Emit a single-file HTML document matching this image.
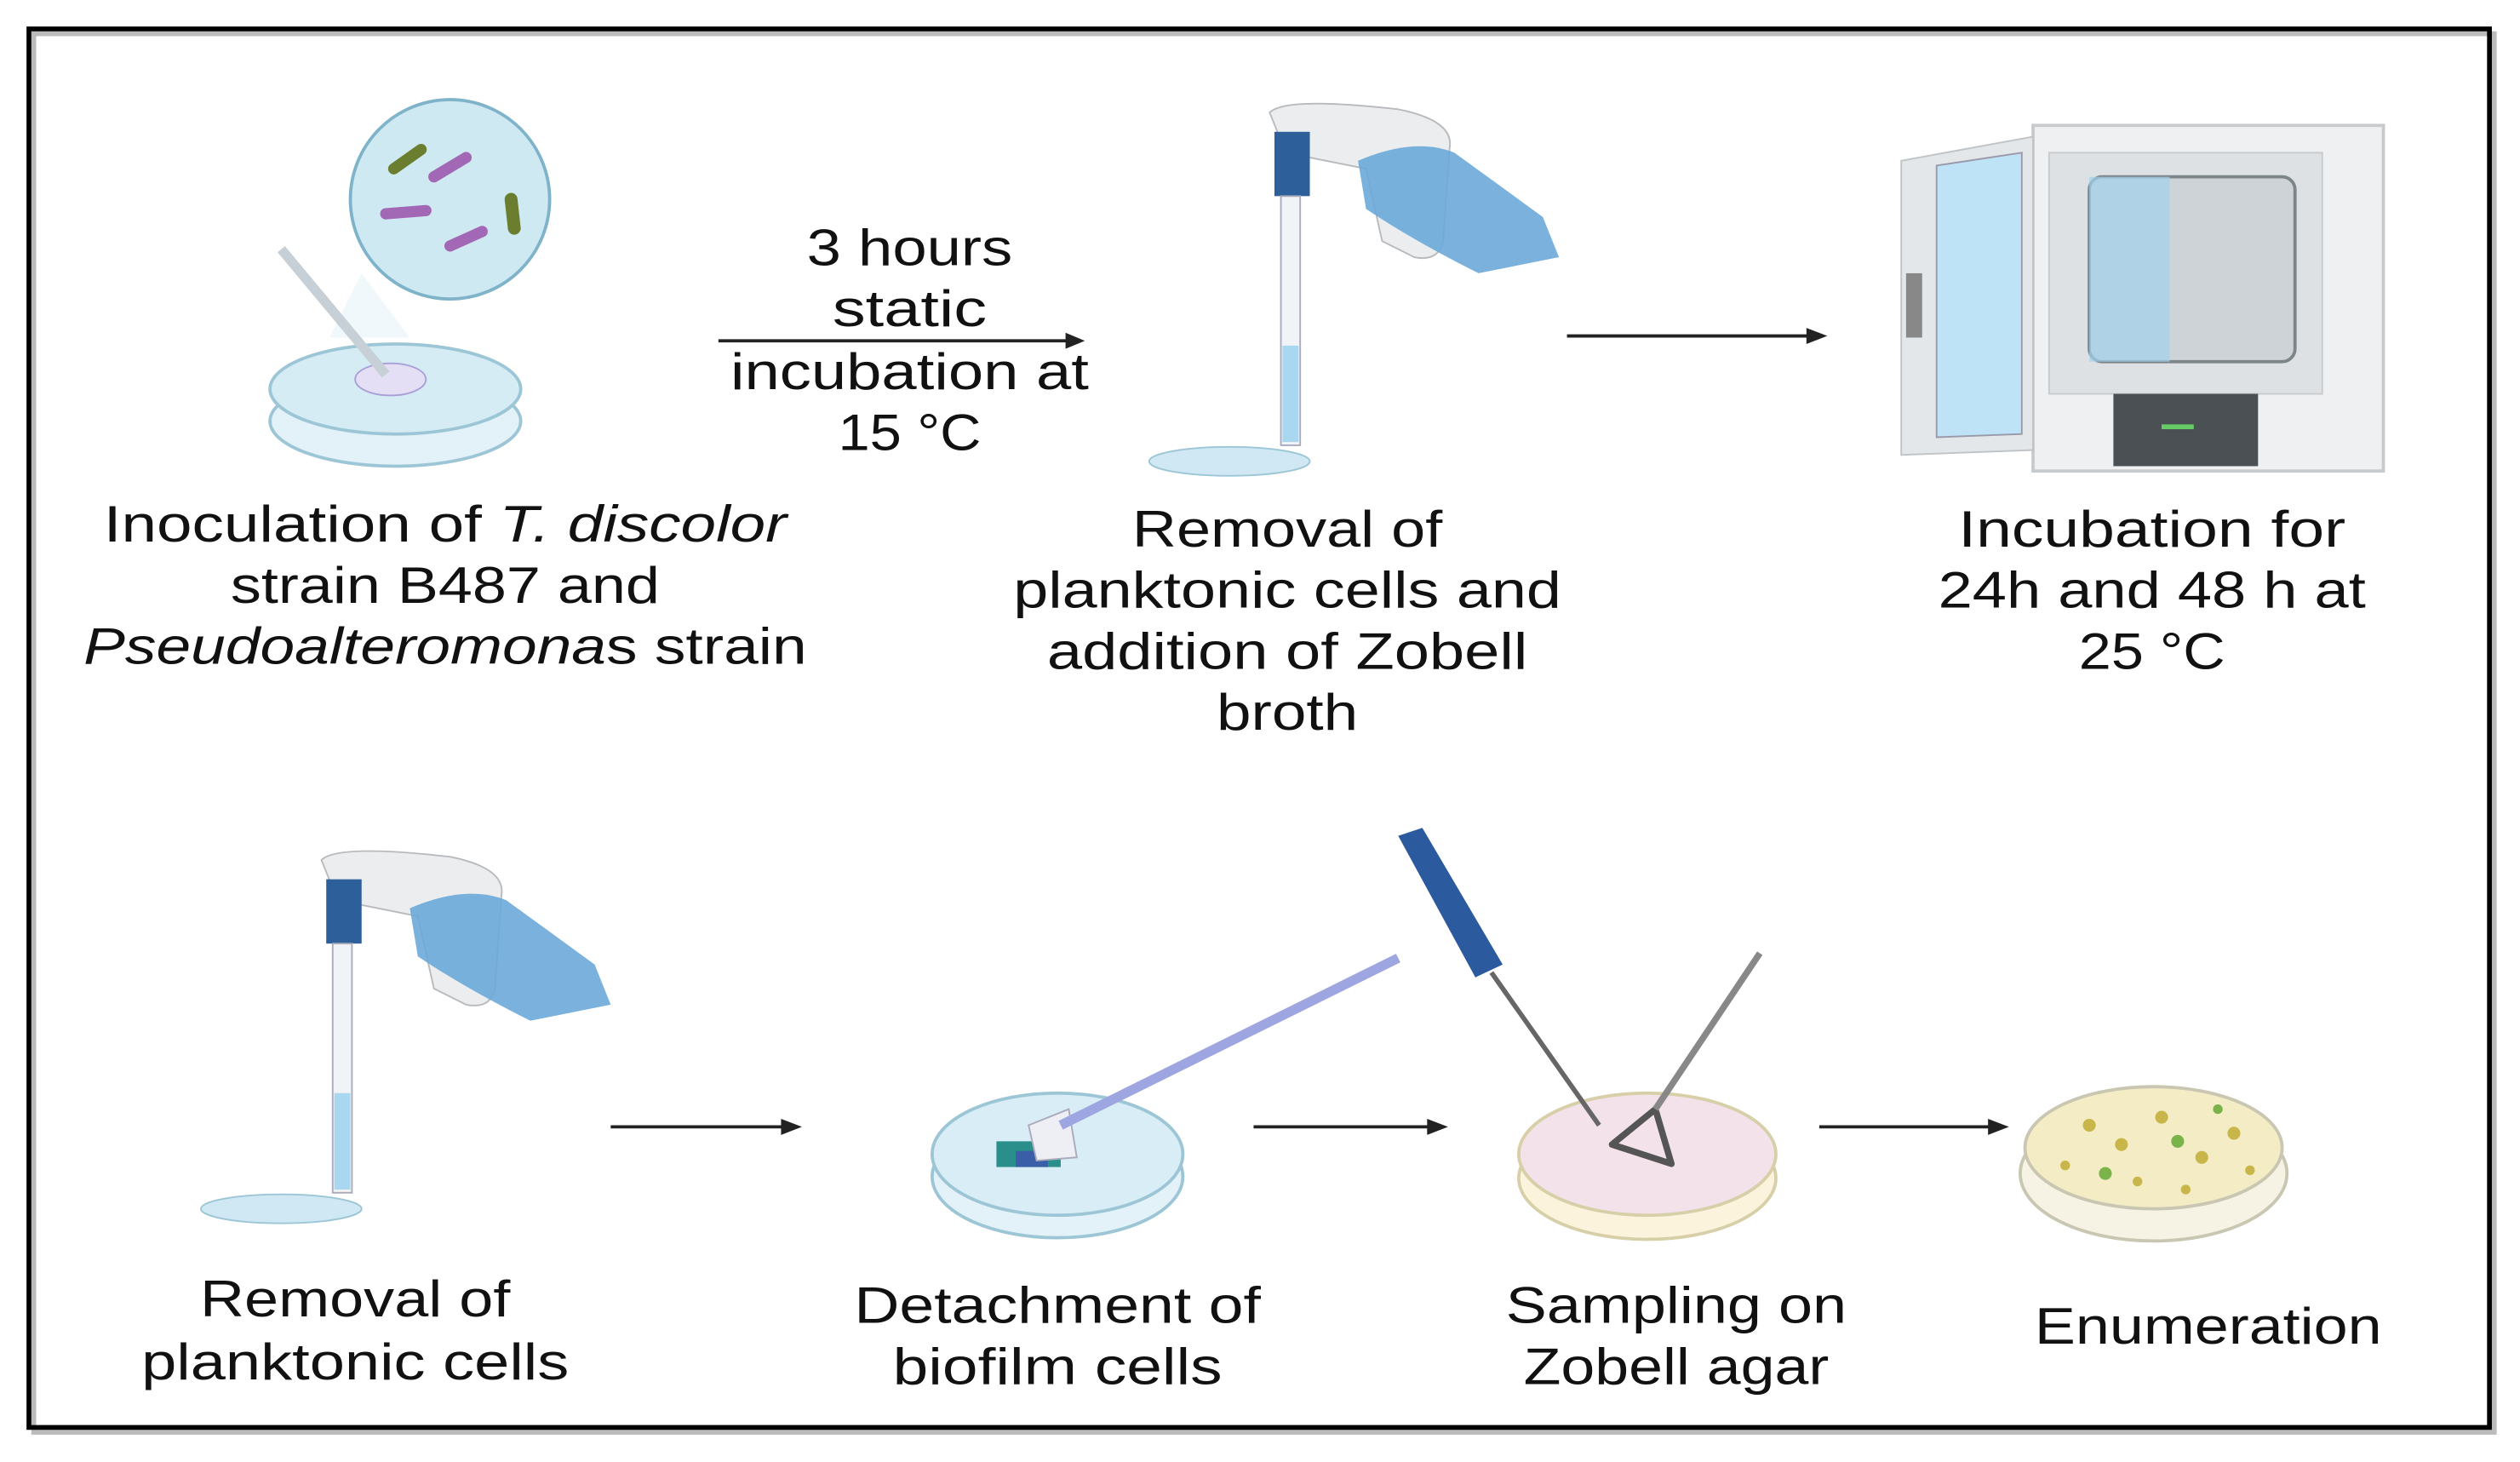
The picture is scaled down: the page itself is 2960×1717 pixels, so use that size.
<!DOCTYPE html>
<html><head><style>html,body{margin:0;padding:0;background:#fff}svg{display:block}</style></head>
<body>
<svg width="2960" height="1717" viewBox="0 0 1568 909.5" preserveAspectRatio="none" xmlns="http://www.w3.org/2000/svg" font-family="Liberation Sans, sans-serif">
<rect x="0" y="0" width="1568" height="909.5" fill="#fff"/>
<rect x="21" y="21" width="1531" height="870" fill="none" stroke="#bbb" stroke-width="3"/>
<rect x="18" y="18" width="1531" height="870" fill="none" stroke="#000" stroke-width="3"/>

<!-- Step 1 -->
<circle cx="280" cy="124" r="62" fill="#cfe9f3" stroke="#7fb3c9" stroke-width="2"/>
<g stroke-linecap="round">
<line x1="245" y1="105" x2="262" y2="93" stroke="#6b7d2e" stroke-width="7"/>
<line x1="270" y1="110" x2="290" y2="98" stroke="#a268b5" stroke-width="7"/>
<line x1="240" y1="133" x2="265" y2="131" stroke="#a268b5" stroke-width="7"/>
<line x1="280" y1="153" x2="300" y2="144" stroke="#a268b5" stroke-width="7"/>
<line x1="318" y1="124" x2="320" y2="142" stroke="#6b7d2e" stroke-width="8"/>
</g>
<path d="M225 170 L205 210 L255 210 Z" fill="#e8f4f8" opacity="0.6"/>
<ellipse cx="246" cy="262" rx="78" ry="28" fill="#e3f2f8" stroke="#9cc6d6" stroke-width="2"/>
<ellipse cx="246" cy="242" rx="78" ry="28" fill="#d5ecf5" stroke="#9cc6d6" stroke-width="2"/>
<ellipse cx="243" cy="236" rx="22" ry="10" fill="#e5dff5" stroke="#a9a0d8"/>
<line x1="175" y1="155" x2="240" y2="233" stroke="#c6d0d6" stroke-width="6"/>

<g font-size="32" text-anchor="middle" fill="#111" lengthAdjust="spacingAndGlyphs">
<text x="277" y="337" textLength="425" lengthAdjust="spacingAndGlyphs">Inoculation of <tspan font-style="italic">T. discolor</tspan></text>
<text x="277" y="375" textLength="267" lengthAdjust="spacingAndGlyphs">strain B487 and</text>
<text x="277" y="413" textLength="450" lengthAdjust="spacingAndGlyphs"><tspan font-style="italic">Pseudoalteromona</tspan>s strain</text>

<text x="566" y="165" textLength="128" lengthAdjust="spacingAndGlyphs">3 hours</text>
<text x="566" y="203" textLength="96" lengthAdjust="spacingAndGlyphs">static</text>
<text x="566" y="242" textLength="223" lengthAdjust="spacingAndGlyphs">incubation at</text>
<text x="566" y="280" textLength="89" lengthAdjust="spacingAndGlyphs">15 °C</text>

<text x="801" y="340" textLength="193" lengthAdjust="spacingAndGlyphs">Removal of</text>
<text x="801" y="378" textLength="341" lengthAdjust="spacingAndGlyphs">planktonic cells and</text>
<text x="801" y="416" textLength="299" lengthAdjust="spacingAndGlyphs">addition of Zobell</text>
<text x="801" y="454" textLength="88" lengthAdjust="spacingAndGlyphs">broth</text>

<text x="1339" y="340" textLength="241" lengthAdjust="spacingAndGlyphs">Incubation for</text>
<text x="1339" y="378" textLength="266" lengthAdjust="spacingAndGlyphs">24h and 48 h at</text>
<text x="1339" y="416" textLength="91" lengthAdjust="spacingAndGlyphs">25 °C</text>

<text x="221" y="819" textLength="193" lengthAdjust="spacingAndGlyphs">Removal of</text>
<text x="221" y="858" textLength="266" lengthAdjust="spacingAndGlyphs">planktonic cells</text>
<text x="658" y="823" textLength="253" lengthAdjust="spacingAndGlyphs">Detachment of</text>
<text x="658" y="861" textLength="205" lengthAdjust="spacingAndGlyphs">biofilm cells</text>
<text x="1043" y="823" textLength="212" lengthAdjust="spacingAndGlyphs">Sampling on</text>
<text x="1043" y="861" textLength="190" lengthAdjust="spacingAndGlyphs">Zobell agar</text>
<text x="1374" y="836" textLength="216" lengthAdjust="spacingAndGlyphs">Enumeration</text>
</g>

<!-- arrow 1 -->
<line x1="447" y1="212" x2="665" y2="212" stroke="#222" stroke-width="2"/>
<path d="M675 212 L663 207 L663 217 Z" fill="#222"/>

<!-- pipette controller 1 -->
<g id="pip">
<path d="M790 70 Q800 60 870 68 Q905 75 902 92 L898 150 Q895 163 880 160 L860 150 L850 105 L800 95 Z" fill="#ecedef" stroke="#b8babd"/>
<rect x="793" y="82" width="22" height="40" fill="#2d5f9a"/>
<path d="M845 100 Q880 85 905 95 L960 135 L970 160 L920 170 Q880 150 850 130 Z" fill="#6ba9d9" opacity="0.9"/>
<rect x="797" y="122" width="12" height="155" fill="#f1f4f6" stroke="#aab"/>
<rect x="798" y="215" width="10" height="60" fill="#a9d7ef"/>
<ellipse cx="765" cy="287" rx="50" ry="9" fill="#cfe8f3" stroke="#9cc6d6"/>
</g>

<!-- arrow 2 -->
<line x1="975" y1="209" x2="1125" y2="209" stroke="#222" stroke-width="2"/>
<path d="M1137 209 L1124 204 L1124 214 Z" fill="#222"/>

<!-- incubator -->
<rect x="1265" y="78" width="218" height="215" fill="#eef0f1" stroke="#c8cbcd" stroke-width="2"/>
<rect x="1275" y="95" width="170" height="150" fill="#dde1e4" stroke="#c8cbcd"/>
<rect x="1300" y="110" width="128" height="115" rx="8" fill="#cdd3d7" stroke="#7d8589" stroke-width="2"/>
<rect x="1300" y="110" width="50" height="115" fill="#a3d2ee" opacity="0.7"/>
<rect x="1315" y="245" width="90" height="45" fill="#4a5054"/>
<rect x="1345" y="264" width="20" height="3" fill="#6c6"/>
<path d="M1183 100 L1265 85 L1265 280 L1183 283 Z" fill="#e4e7e9" stroke="#c0c3c5"/>
<path d="M1205 103 L1258 95 L1258 270 L1205 272 Z" fill="#bfe3f6" stroke="#99a"/>
<rect x="1186" y="170" width="10" height="40" fill="#888"/>

<!-- bottom pipette -->
<use href="#pip" transform="translate(-590 465)"/>
<line x1="380" y1="701" x2="487" y2="701" stroke="#222" stroke-width="2"/>
<path d="M499 701 L486 696 L486 706 Z" fill="#222"/>

<!-- detachment -->
<ellipse cx="658" cy="732" rx="78" ry="38" fill="#e3f2f8" stroke="#9cc6d6" stroke-width="2"/>
<ellipse cx="658" cy="718" rx="78" ry="38" fill="#d8edf5" stroke="#9cc6d6" stroke-width="2"/>
<rect x="620" y="710" width="40" height="16" fill="#2a8f8a"/>
<rect x="632" y="716" width="20" height="10" fill="#3a5fa8"/>
<path d="M640 700 L665 690 L670 720 L645 722 Z" fill="#eeeef5" stroke="#aab"/>
<line x1="660" y1="700" x2="870" y2="596" stroke="#9da6e0" stroke-width="6"/>
<line x1="780" y1="701" x2="889" y2="701" stroke="#222" stroke-width="2"/>
<path d="M901 701 L888 696 L888 706 Z" fill="#222"/>

<!-- sampling -->
<ellipse cx="1025" cy="733" rx="80" ry="38" fill="#fbf3dc" stroke="#d6cfa8" stroke-width="2"/>
<ellipse cx="1025" cy="718" rx="80" ry="38" fill="#f3e2ea" stroke="#d6cfa8" stroke-width="2"/>
<path d="M870 520 L885 515 L935 600 L918 608 Z" fill="#2b5b9e"/>
<line x1="928" y1="605" x2="995" y2="700" stroke="#666" stroke-width="3"/>
<path d="M1003 712 L1040 724 L1030 690 Z" fill="none" stroke="#555" stroke-width="4" stroke-linejoin="round"/>
<line x1="1030" y1="690" x2="1095" y2="593" stroke="#888" stroke-width="4"/>
<line x1="1132" y1="701" x2="1238" y2="701" stroke="#222" stroke-width="2"/>
<path d="M1250 701 L1237 696 L1237 706 Z" fill="#222"/>

<!-- enumeration -->
<ellipse cx="1340" cy="730" rx="83" ry="42" fill="#f6f3e4" stroke="#c9c6b2" stroke-width="2"/>
<ellipse cx="1340" cy="714" rx="80" ry="38" fill="#f3ecc5" stroke="#c9c6b2" stroke-width="2"/>
<g fill="#c8b64a">
<circle cx="1300" cy="700" r="4"/><circle cx="1320" cy="712" r="4"/><circle cx="1345" cy="695" r="4"/><circle cx="1370" cy="720" r="4"/><circle cx="1390" cy="705" r="4"/><circle cx="1285" cy="725" r="3"/><circle cx="1330" cy="735" r="3"/><circle cx="1360" cy="740" r="3"/><circle cx="1400" cy="728" r="3"/>
</g>
<g fill="#7ab34a"><circle cx="1310" cy="730" r="4"/><circle cx="1355" cy="710" r="4"/><circle cx="1380" cy="690" r="3"/></g>
</svg>
</body></html>
